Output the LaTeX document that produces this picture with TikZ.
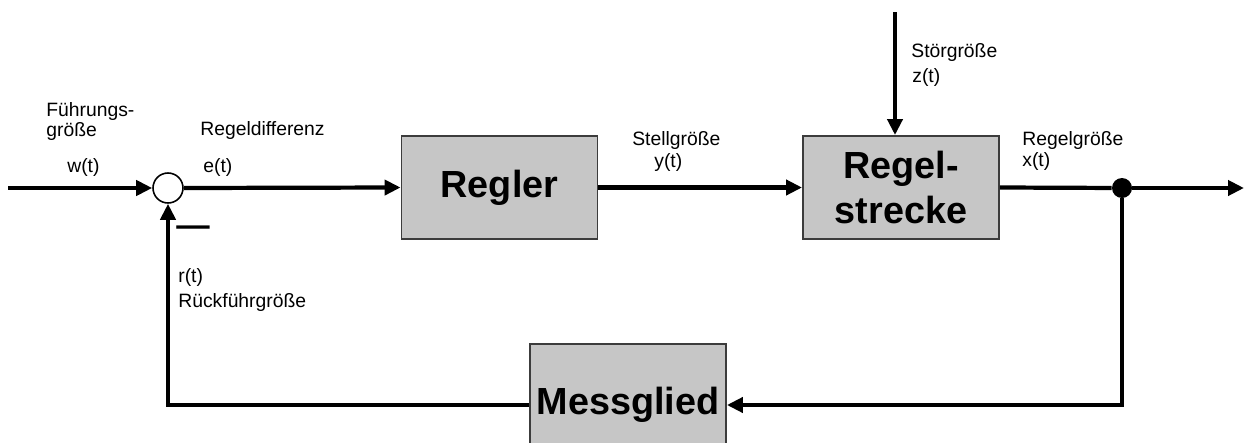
\documentclass[tikz,border=0pt]{standalone}
\usepackage{fontspec}
\setmainfont{Liberation Sans}
\usetikzlibrary{arrows.meta,positioning}
\definecolor{khoixam}{RGB}{198,198,198}
\definecolor{vienxam}{RGB}{60,60,60}
\tikzset{
	block/.style={draw=vienxam,line width=1.1pt,fill=khoixam,inner sep=0pt,
		minimum width=3.92cm,minimum height=2.06cm,align=center,
		font=\fontsize{21.5}{25.6}\selectfont\bfseries},
	summe/.style={draw,circle,line width=0.9pt,minimum size=0.6cm,inner sep=0pt},
	knoten/.style={fill,circle,minimum size=0.4cm,inner sep=0pt},
	signal/.style={line width=2.4pt,-{Triangle[length=3.2mm,width=3mm]}},
	leitung/.style={line width=2.4pt},
	txt/.style={anchor=base west,inner sep=0pt,font=\fontsize{11}{13}\selectfont}
}
\begin{document}
\begin{tikzpicture}[x=0.02cm,y=-0.02cm]
	\useasboundingbox (0,0) rectangle (1245,443);
	% Bloecke
	\node[summe] (sum) at (168,188) {};
	\node[block] (regler) at (499.5,187.5) {Regler};
	\node[block] (strecke) at (901,187.5) {Regel-\\strecke};
	\node[block,minimum height=2.44cm] (mess) at (628,405) {Messglied};
	\node[knoten] (junc) at (1122,188) {};
	% freie Enden
	\coordinate (ein) at (8,188);
	\coordinate (aus) at (1244,188);
	\coordinate (stoer) at (895,12);
	% Signale
	\draw[signal] (ein) -- (sum.west);
	\draw[signal] (sum.east) -- (regler.west);
	\draw[signal] (regler.east) -- (strecke.west);
	\draw[leitung] (strecke.east) -- (junc);
	\draw[signal] (junc) -- (aus);
	\draw[signal] (stoer) -- (stoer |- strecke.north);
	\draw[signal] (junc) |- (mess.east);
	\draw[signal] (mess.west) -| (sum.south);
	% Beschriftungen
	\node[txt] (fg1) at (46,116) {Führungs-};
	\node[txt] (fg2) at (46,136) {größe};
	\node[txt] (w) at (67,172) {w(t)};
	\node[txt] (rd) at (200,135) {Regeldifferenz};
	\node[txt] (e) at (203,172) {e(t)};
	\node[txt,font=\fontsize{19}{19}\selectfont\bfseries] (minus) at (176,236) {—};
	\node[txt] (r) at (178,282) {r(t)};
	\node[txt] (rfg) at (178,307) {Rückführgröße};
	\node[txt] (sg) at (632,145) {Stellgröße};
	\node[txt] (y) at (654,167) {y(t)};
	\node[txt] (zg) at (911,57) {Störgröße};
	\node[txt] (z) at (912,82) {z(t)};
	\node[txt] (xg) at (1022,145) {Regelgröße};
	\node[txt] (x) at (1022,166) {x(t)};
\end{tikzpicture}
\end{document}
